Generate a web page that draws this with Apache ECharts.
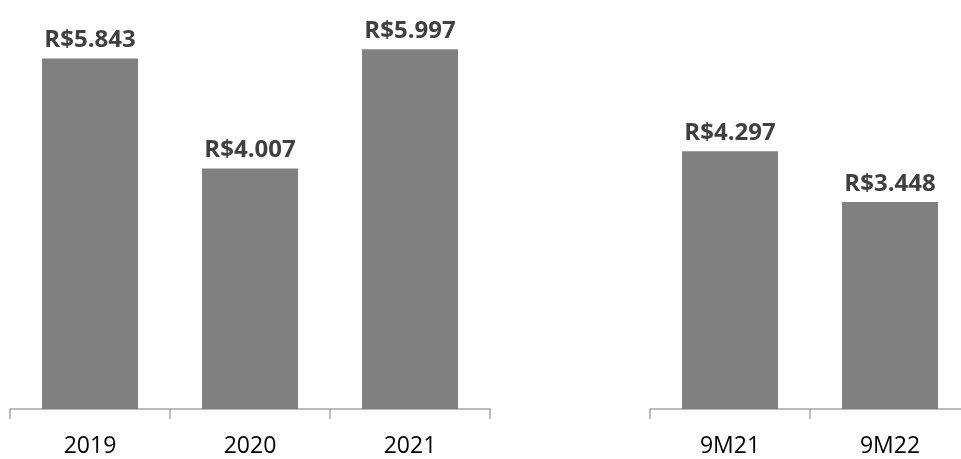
<!DOCTYPE html>
<html>
<head>
<meta charset="utf-8">
<script src="https://cdn.jsdelivr.net/npm/echarts@6/dist/echarts.min.js"></script>
<style>
  html, body { margin: 0; padding: 0; background: #ffffff; }
  #chart { width: 961px; height: 459px; }
</style>
</head>
<body>
<div id="chart"></div>
<script>
// Annual totals and nine-month comparison (R$ millions)
const annualCategories = ['2019', '2020', '2021'];
const annualValues = [5843, 4007, 5997];
const ytdCategories = ['9M21', '9M22'];
const ytdValues = [4297, 3448];

const fontFamily = '"Open Sans", "Liberation Sans", sans-serif';

function fmt(v) {
  const s = String(v);
  return 'R$' + s.slice(0, s.length - 3) + '.' + s.slice(-3);
}

function xAxisFor(idx, cats) {
  return {
    type: 'category',
    gridIndex: idx,
    data: cats,
    axisLine: { lineStyle: { color: '#a6a6a6', width: 1.5 } },
    axisTick: { show: true, length: 10, lineStyle: { color: '#a6a6a6', width: 1.5 } },
    axisLabel: { color: '#000000', fontSize: 23, fontFamily: fontFamily, margin: 26 }
  };
}

function yAxisFor(idx) {
  return { type: 'value', gridIndex: idx, min: 0, max: 6000, show: false, splitLine: { show: false } };
}

function barSeries(idx, values) {
  return {
    type: 'bar',
    xAxisIndex: idx,
    yAxisIndex: idx,
    data: values,
    barCategoryGap: '40%',
    itemStyle: { color: '#808080' },
    label: {
      show: true,
      position: 'top',
      distance: 6,
      color: '#404040',
      fontWeight: 'bold',
      fontSize: 24,
      fontFamily: fontFamily,
      formatter: p => fmt(p.value)
    }
  };
}

const chart = echarts.init(document.getElementById('chart'), null, { renderer: 'canvas' });
chart.setOption({
  animation: false,
  backgroundColor: '#ffffff',
  grid: [
    { left: 10, width: 480, top: 49, height: 360, outerBoundsMode: 'none', containLabel: false },
    { left: 650, width: 320, top: 49, height: 360, outerBoundsMode: 'none', containLabel: false }
  ],
  xAxis: [xAxisFor(0, annualCategories), xAxisFor(1, ytdCategories)],
  yAxis: [yAxisFor(0), yAxisFor(1)],
  series: [barSeries(0, annualValues), barSeries(1, ytdValues)]
});
</script>
</body>
</html>
